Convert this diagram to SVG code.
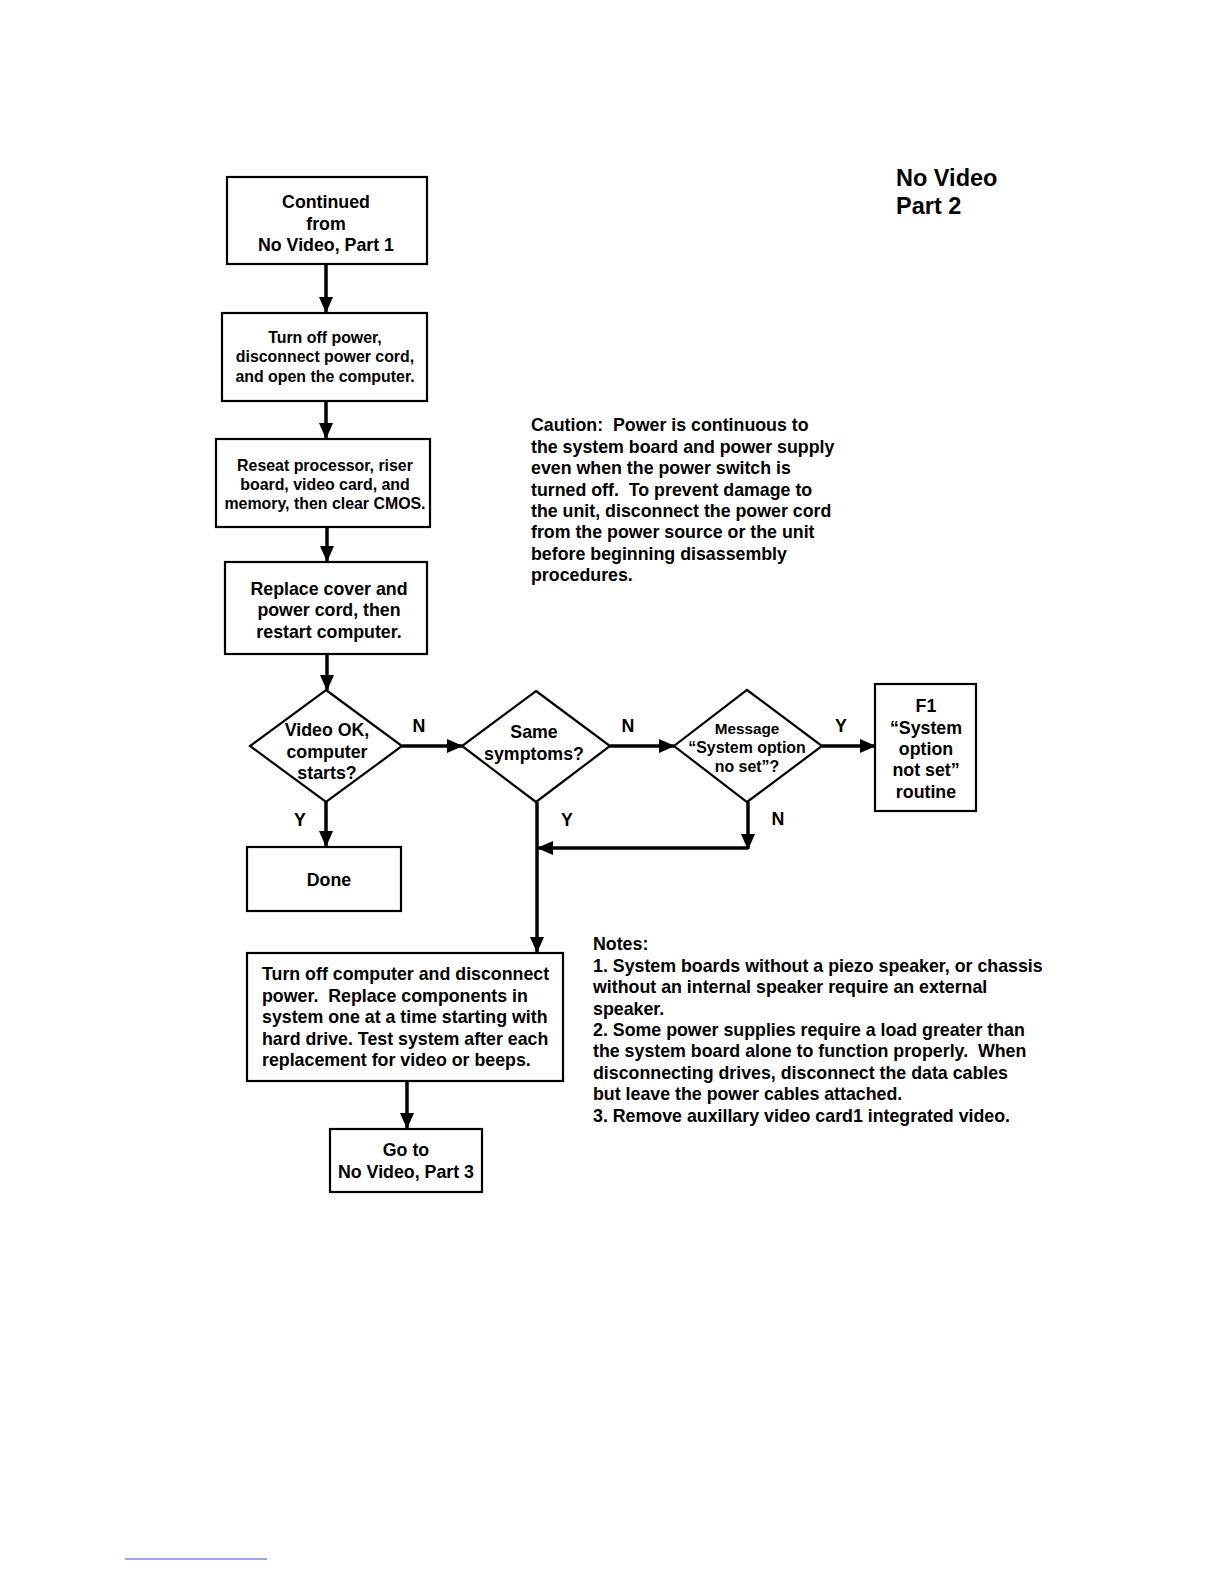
<svg xmlns="http://www.w3.org/2000/svg" width="1224" height="1584" viewBox="0 0 1224 1584">
<style>
.box{fill:#fff;stroke:#000;stroke-width:2.2}
.t{font-family:"Liberation Sans",Arial,sans-serif;font-weight:bold;fill:#000;text-anchor:middle}
.l{font-family:"Liberation Sans",Arial,sans-serif;font-weight:bold;fill:#000}
.f17{font-size:17.8px}
.f15{font-size:15.9px}
.f14{font-size:15.3px}
.c{stroke:#000;stroke-width:3.5;fill:none}
</style>
<defs>
<marker id="ah" markerUnits="userSpaceOnUse" markerWidth="16" markerHeight="14" refX="15" refY="7" orient="auto">
<path d="M0,0 L16,7 L0,14 Z" fill="#000"/>
</marker>
</defs>
<rect width="1224" height="1584" fill="#fff"/>

<g id="title">
<text class="l" x="896" y="186" font-size="23.5">No Video</text>
<text class="l" x="896" y="214" font-size="23.5">Part 2</text>
</g>

<g id="connectors">
<line class="c" x1="326" y1="264" x2="326" y2="312" marker-end="url(#ah)"/>
<line class="c" x1="326" y1="401" x2="326" y2="438" marker-end="url(#ah)"/>
<line class="c" x1="327" y1="527" x2="327" y2="561" marker-end="url(#ah)"/>
<line class="c" x1="327" y1="654" x2="327" y2="690" marker-end="url(#ah)"/>
<line class="c" x1="402" y1="746" x2="462" y2="746" marker-end="url(#ah)"/>
<line class="c" x1="610" y1="746" x2="674" y2="746" marker-end="url(#ah)"/>
<line class="c" x1="822" y1="746" x2="875" y2="746" marker-end="url(#ah)"/>
<line class="c" x1="326" y1="802" x2="326" y2="846" marker-end="url(#ah)"/>
<line class="c" x1="537" y1="802" x2="537" y2="952" marker-end="url(#ah)"/>
<line class="c" x1="748" y1="802" x2="748" y2="849" marker-end="url(#ah)"/>
<line class="c" x1="748" y1="848" x2="538" y2="848" marker-end="url(#ah)"/>
<line class="c" x1="407" y1="1081" x2="407" y2="1128" marker-end="url(#ah)"/>
<text class="t f17" x="419" y="732">N</text>
<text class="t f17" x="628" y="732">N</text>
<text class="t f17" x="841" y="732">Y</text>
<text class="t f17" x="300" y="826">Y</text>
<text class="t f17" x="567" y="826">Y</text>
<text class="t f17" x="778" y="825">N</text>
</g>

<g id="n1">
<rect class="box" x="227" y="177" width="200" height="87"/>
<text class="t f17" x="326" y="208">Continued</text>
<text class="t f17" x="326" y="230">from</text>
<text class="t f17" x="326" y="251">No Video, Part 1</text>
</g>

<g id="n2">
<rect class="box" x="222" y="313" width="205" height="88"/>
<text class="t f15" x="325" y="343">Turn off power,</text>
<text class="t f15" x="325" y="362">disconnect power cord,</text>
<text class="t f15" x="325" y="382">and open the computer.</text>
</g>

<g id="n3">
<rect class="box" x="216" y="439" width="214" height="88"/>
<text class="t f15" x="325" y="471">Reseat processor, riser</text>
<text class="t f15" x="325" y="490">board, video card, and</text>
<text class="t f15" x="325" y="509">memory, then clear CMOS.</text>
</g>

<g id="n4">
<rect class="box" x="225" y="562" width="202" height="92"/>
<text class="t f17" x="329" y="595">Replace cover and</text>
<text class="t f17" x="329" y="616">power cord, then</text>
<text class="t f17" x="329" y="638">restart computer.</text>
</g>

<g id="d1">
<polygon class="box" points="326,690 402,746 326,802 250,746"/>
<text class="t f17" x="327" y="736">Video OK,</text>
<text class="t f17" x="327" y="758">computer</text>
<text class="t f17" x="327" y="779">starts?</text>
</g>

<g id="d2">
<polygon class="box" points="536,691 610,746 536,802 462,746"/>
<text class="t f17" x="534" y="738">Same</text>
<text class="t f17" x="534" y="760">symptoms?</text>
</g>

<g id="d3">
<polygon class="box" points="747,690 822,746 747,802 674,746"/>
<text class="t f14" x="747" y="734">Message</text>
<text class="t f15" x="747" y="753">“System option</text>
<text class="t f15" x="747" y="772">no set”?</text>
</g>

<g id="n5">
<rect class="box" x="875" y="684" width="101" height="127"/>
<text class="t f17" x="926" y="712">F1</text>
<text class="t f17" x="926" y="734">“System</text>
<text class="t f17" x="926" y="755">option</text>
<text class="t f17" x="926" y="776">not set”</text>
<text class="t f17" x="926" y="798">routine</text>
</g>

<g id="n6">
<rect class="box" x="247" y="847" width="154" height="64"/>
<text class="t f17" x="329" y="886">Done</text>
</g>

<g id="n7">
<rect class="box" x="247" y="953" width="316" height="128"/>
<text class="l f17" x="262" y="980">Turn off computer and disconnect</text>
<text class="l f17" x="262" y="1002" xml:space="preserve">power.  Replace components in</text>
<text class="l f17" x="262" y="1023">system one at a time starting with</text>
<text class="l f17" x="262" y="1045">hard drive. Test system after each</text>
<text class="l f17" x="262" y="1066">replacement for video or beeps.</text>
</g>

<g id="n8">
<rect class="box" x="330" y="1129" width="152" height="63"/>
<text class="t f17" x="406" y="1156">Go to</text>
<text class="t f17" x="406" y="1178">No Video, Part 3</text>
</g>

<g id="caution">
<text class="l f17" x="531" y="431" xml:space="preserve">Caution:  Power is continuous to</text>
<text class="l f17" x="531" y="453">the system board and power supply</text>
<text class="l f17" x="531" y="474">even when the power switch is</text>
<text class="l f17" x="531" y="496" xml:space="preserve">turned off.  To prevent damage to</text>
<text class="l f17" x="531" y="517">the unit, disconnect the power cord</text>
<text class="l f17" x="531" y="538">from the power source or the unit</text>
<text class="l f17" x="531" y="560">before beginning disassembly</text>
<text class="l f17" x="531" y="581">procedures.</text>
</g>

<g id="notes">
<text class="l f17" x="593" y="950">Notes:</text>
<text class="l f17" x="593" y="972">1. System boards without a piezo speaker, or chassis</text>
<text class="l f17" x="593" y="993">without an internal speaker require an external</text>
<text class="l f17" x="593" y="1015">speaker.</text>
<text class="l f17" x="593" y="1036">2. Some power supplies require a load greater than</text>
<text class="l f17" x="593" y="1057" xml:space="preserve">the system board alone to function properly.  When</text>
<text class="l f17" x="593" y="1079">disconnecting drives, disconnect the data cables</text>
<text class="l f17" x="593" y="1100">but leave the power cables attached.</text>
<text class="l f17" x="593" y="1122">3. Remove auxillary video card1 integrated video.</text>
</g>

<line x1="125" y1="1559" x2="267" y2="1559" stroke="#3355cc" stroke-width="1"/>
</svg>
